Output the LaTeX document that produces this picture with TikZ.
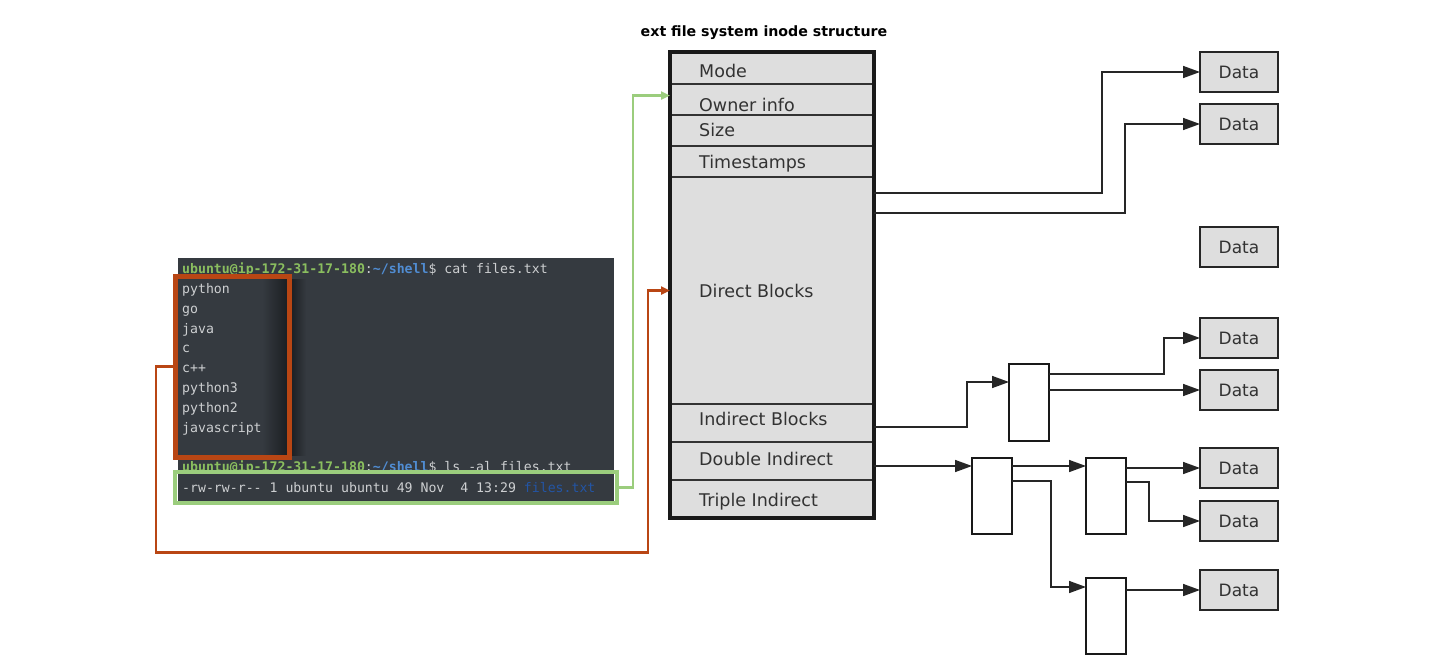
\documentclass[tikz,border=0pt]{standalone}
\usepackage{fontspec}
\setmainfont{DejaVu Sans}
\newfontfamily\termfont{DejaVu Sans Mono}[Ligatures=TeXOff]
\usetikzlibrary{arrows.meta,calc,fit}
\definecolor{termbg}{RGB}{53,58,64}
\definecolor{termdark}{RGB}{28,31,35}
\definecolor{termtext}{RGB}{205,207,209}
\definecolor{pgreen}{RGB}{138,190,95}
\definecolor{pblue}{RGB}{80,140,210}
\definecolor{fblue}{RGB}{35,85,165}
\definecolor{orangec}{RGB}{185,70,20}
\definecolor{greenc}{RGB}{155,205,125}
\definecolor{rowgray}{RGB}{222,222,222}
\definecolor{textgray}{RGB}{50,50,50}
\begin{document}
\begin{tikzpicture}[x=1pt,y=-1pt,
  row/.style={draw=black!80, line width=1.5, fill=rowgray, anchor=north west, outer sep=0,
    minimum width=204},
  rowtext/.style={anchor=base west, inner sep=0, font=\fontsize{17.5}{20}\selectfont, text=textgray},
  frame/.style={draw=black!90, line width=4, inner sep=0, outer sep=0},
  data/.style={draw=black!85, line width=2.5, fill=rowgray, minimum width=78, minimum height=40,
    outer sep=0, inner sep=0, font=\fontsize{17}{19}\selectfont, text=textgray},
  iblock/.style={draw=black!90, line width=2.5, fill=white, minimum width=40, minimum height=76,
    anchor=north west, outer sep=0},
  conn/.style={line width=1.6, draw=black!85, -{Triangle[length=17pt,width=12pt]}},
  term/.style={anchor=base west, inner sep=0, font=\termfont\fontsize{13.2}{15}\selectfont, text=termtext},
  oline/.style={draw=orangec, line width=2.5, -{Triangle[length=9pt,width=8pt]}},
  gline/.style={draw=greenc, line width=2.5, -{Triangle[length=9pt,width=8pt]}},
  hbox/.style={anchor=north west, outer sep=0, inner sep=0}
]
\useasboundingbox (0,0) rectangle (1435,667);

% title
\node[font=\bfseries\fontsize{14.2}{17}\selectfont] (title) at (764,33) {ext file system inode structure};

% inode rows
\node[row, minimum height=32] (mode) at (670,52) {};
\node[row, minimum height=31] (owner) at (670,84) {};
\node[row, minimum height=31] (size) at (670,115) {};
\node[row, minimum height=31] (time) at (670,146) {};
\node[row, minimum height=227] (direct) at (670,177) {};
\node[row, minimum height=38] (indirect) at (670,404) {};
\node[row, minimum height=38] (doub) at (670,442) {};
\node[row, minimum height=38] (triple) at (670,480) {};
\node[frame, fit=(mode)(triple)] (inode) {};

\node[rowtext] (modeT) at (699,77) {Mode};
\node[rowtext] (ownerT) at (699,111) {Owner info};
\node[rowtext] (sizeT) at (699,136.5) {Size};
\node[rowtext] (timeT) at (699,168) {Timestamps};
\node[rowtext] (directT) at (699,297) {Direct Blocks};
\node[rowtext] (indirectT) at (699,425.5) {Indirect Blocks};
\node[rowtext] (doubT) at (699,465) {Double Indirect};
\node[rowtext] (tripleT) at (699,506.5) {Triple Indirect};

% data blocks
\node[data] (d1) at (1239,72) {Data};
\node[data] (d2) at (1239,124) {Data};
\node[data] (d3) at (1239,247) {Data};
\node[data] (d4) at (1239,338) {Data};
\node[data] (d5) at (1239,390) {Data};
\node[data] (d6) at (1239,468) {Data};
\node[data] (d7) at (1239,521) {Data};
\node[data] (d8) at (1239,590) {Data};

% index blocks
\node[iblock, minimum height=77] (ib) at (1009,364) {};
\node[iblock] (A) at (972,458) {};
\node[iblock] (B) at (1086,458) {};
\node[iblock] (C) at (1086,578) {};

% connectors
\draw[conn] ([yshift=-16pt]direct.north east) -- ++(228,0) |- (d1.west);
\draw[conn] ([yshift=-36pt]direct.north east) -- ++(251,0) |- (d2.west);
\draw[conn] ([yshift=-4pt]indirect.east) -| ($(ib.north west)+(-42,18)$) -- ([yshift=-18pt]ib.north west);
\draw[conn] ([yshift=-10pt]ib.north east) -- ++(115,0) |- (d4.west);
\draw[conn] (ib.east |- d5.west) -- (d5.west);
\draw[conn] ([yshift=-5pt]doub.east) -- ([yshift=-8pt]A.north west);
\draw[conn] ([yshift=-8pt]A.north east) -- ([yshift=-8pt]B.north west);
\draw[conn] ([yshift=-23pt]A.north east) -- ++(39,0) |- ([yshift=-9pt]C.north west);
\draw[conn] (B.east |- d6.west) -- (d6.west);
\draw[conn] ([yshift=-24pt]B.north east) -- ++(23,0) |- (d7.west);
\draw[conn] (C.east |- d8.west) -- (d8.west);

% terminal
\fill[termbg] (178,258) rectangle (614,501);
\shade[left color=termbg, right color=termdark] (262,279) rectangle (287,455);
\shade[left color=termdark, right color=termbg] (291,279) rectangle (306,455);
\node[term] (t1) at (182,273.5) {{\bfseries\color{pgreen}ubuntu@ip-172-31-17-180}:{\bfseries\color{pblue}\textasciitilde/shell}\$ cat files.txt};
\node[term] (t2) at (182,293.5) {python};
\node[term] (t3) at (182,313) {go};
\node[term] (t4) at (182,333) {java};
\node[term] (t5) at (182,352.5) {c};
\node[term] (t6) at (182,372.5) {c++};
\node[term] (t7) at (182,392.5) {python3};
\node[term] (t8) at (182,412) {python2};
\node[term] (t9) at (182,432) {javascript};
\node[term] (t10) at (182,471.5) {{\bfseries\color{pgreen}ubuntu@ip-172-31-17-180}:{\bfseries\color{pblue}\textasciitilde/shell}\$ ls -al files.txt};
\node[term] (t11) at (182,492) {-rw-rw-r-- 1 ubuntu ubuntu 49 Nov\ \ 4 13:29 {\color{fblue}files.txt}};

% highlight boxes
\node[hbox, draw=orangec, line width=5, minimum width=114, minimum height=181] (catbox) at (175,276) {};
\node[hbox, draw=greenc, line width=4, minimum width=442, minimum height=31] (lsbox) at (175,472) {};

% highlight connectors
\draw[gline] (lsbox.east) -- ++(16,0) |- ([yshift=4pt]owner.west);
\draw[oline] (catbox.west) -- ++(-19,0) |- ($(direct.west)+(-22,262)$) |- (direct.west);
\end{tikzpicture}
\end{document}
